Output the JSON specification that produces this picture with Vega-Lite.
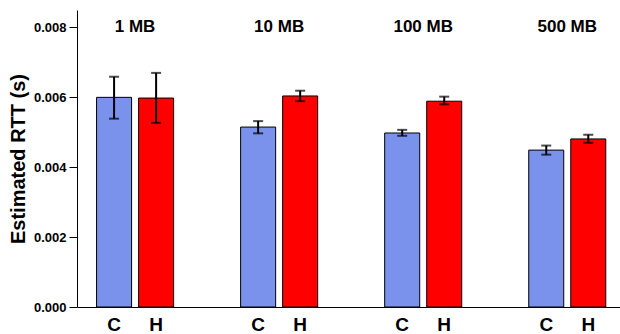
{
  "$schema": "https://vega.github.io/schema/vega-lite/v6.json",
  "autosize": "none",
  "width": 543,
  "height": 297,
  "padding": {"left": 77, "top": 10, "right": 0, "bottom": 27},
  "background": "white",
  "config": {
    "view": {"stroke": null},
    "font": "Liberation Sans"
  },
  "data": {
    "values": [
      {"size": "1 MB", "type": "C", "mean": 0.00600, "lo": 0.00539, "hi": 0.00659},
      {"size": "1 MB", "type": "H", "mean": 0.00598, "lo": 0.00527, "hi": 0.00670},
      {"size": "10 MB", "type": "C", "mean": 0.00515, "lo": 0.00497, "hi": 0.00532},
      {"size": "10 MB", "type": "H", "mean": 0.00604, "lo": 0.00589, "hi": 0.00619},
      {"size": "100 MB", "type": "C", "mean": 0.00498, "lo": 0.00490, "hi": 0.00507},
      {"size": "100 MB", "type": "H", "mean": 0.00589, "lo": 0.00580, "hi": 0.00602},
      {"size": "500 MB", "type": "C", "mean": 0.00449, "lo": 0.00436, "hi": 0.00462},
      {"size": "500 MB", "type": "H", "mean": 0.00481, "lo": 0.00470, "hi": 0.00493}
    ]
  },
  "encoding": {
    "x": {
      "field": "size", "type": "nominal", "sort": null,
      "scale": {"domain": ["1 MB", "10 MB", "100 MB", "500 MB"], "paddingInner": 0.4167, "paddingOuter": 0.093, "align": 0.6},
      "axis": {"title": null, "labels": false, "ticks": false, "domain": true, "domainColor": "black", "domainWidth": 1}
    }
  },
  "layer": [
    {
      "mark": {"type": "bar", "stroke": "black", "strokeWidth": 1},
      "encoding": {
        "xOffset": {"field": "type", "type": "nominal", "scale": {"domain": ["C", "H"], "paddingInner": 0.1667, "paddingOuter": 0.083}},
        "y": {
          "field": "mean", "type": "quantitative",
          "scale": {"domain": [0, 0.0085], "nice": false, "zero": true},
          "axis": {
            "title": "Estimated RTT (s)", "titleFontSize": 20, "titleFontWeight": "bold", "titleColor": "black", "titlePadding": 5,
            "values": [0, 0.002, 0.004, 0.006, 0.008], "format": ".3f",
            "labelFontSize": 13, "labelFontWeight": "bold", "labelColor": "black", "labelPadding": 3,
            "tickColor": "black", "tickSize": 8, "domainColor": "black", "grid": false
          }
        },
        "color": {"field": "type", "type": "nominal", "scale": {"domain": ["C", "H"], "range": ["#7A92EC", "#FF0000"]}, "legend": null}
      }
    },
    {
      "mark": {"type": "rule", "color": "black", "strokeWidth": 2},
      "encoding": {
        "xOffset": {"field": "type", "type": "nominal"},
        "y": {"field": "lo", "type": "quantitative"},
        "y2": {"field": "hi"}
      }
    },
    {
      "mark": {"type": "tick", "color": "black", "size": 10, "thickness": 2, "orient": "horizontal"},
      "encoding": {
        "xOffset": {"field": "type", "type": "nominal"},
        "y": {"field": "lo", "type": "quantitative"}
      }
    },
    {
      "mark": {"type": "tick", "color": "black", "size": 10, "thickness": 2, "orient": "horizontal"},
      "encoding": {
        "xOffset": {"field": "type", "type": "nominal"},
        "y": {"field": "hi", "type": "quantitative"}
      }
    },
    {
      "transform": [{"filter": "datum.type === 'C'"}],
      "mark": {"type": "text", "fontSize": 17, "fontWeight": "bold", "color": "black", "baseline": "middle", "align": "center"},
      "encoding": {
        "y": {"datum": 0.008},
        "text": {"field": "size"}
      }
    },
    {
      "mark": {"type": "text", "fontSize": 19, "fontWeight": "bold", "color": "black", "baseline": "middle", "align": "center", "dy": 18},
      "encoding": {
        "xOffset": {"field": "type", "type": "nominal"},
        "y": {"datum": 0},
        "text": {"field": "type"}
      }
    }
  ]
}
